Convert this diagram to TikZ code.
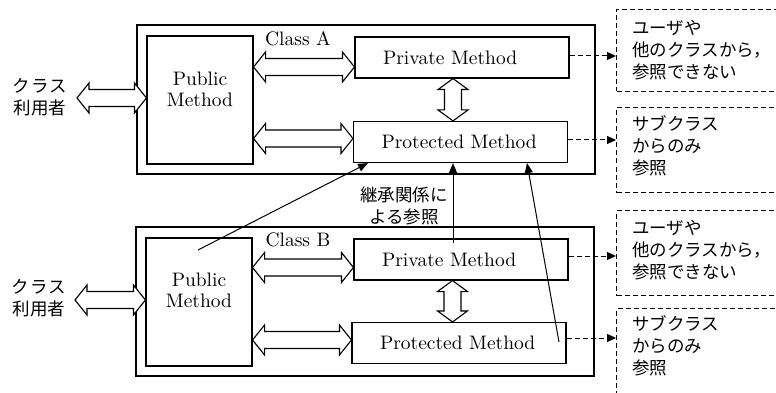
\documentclass[tikz,border=0pt]{standalone}
\usepackage{fontspec}
\setmainfont{lmroman10-regular}[Extension=.otf]
\newfontfamily\jp{Noto Sans CJK JP}
\usetikzlibrary{arrows.meta,calc}
\newcommand\hdarrow[2]{%
  \draw[dblarr] let \p1=(#1), \p2=(#2) in
    (\x1,\y1) -- ++(12pt,15pt) -- ++(0,-6.5pt) -- (\x2-12pt,\y1+8.5pt) -- ++(0,6.5pt)
    -- (\x2,\y1) -- ++(-12pt,-15pt) -- ++(0,6.5pt) -- (\x1+12pt,\y1-8.5pt) -- ++(0,-6.5pt) -- cycle;}
\newcommand\vdarrow[2]{%
  \draw[dblarr] let \p1=(#1), \p2=(#2) in
    (\x1,\y1) -- ++(15pt,-11pt) -- ++(-6.5pt,0) -- (\x1+8.5pt,\y2+11pt) -- ++(6.5pt,0)
    -- (\x1,\y2) -- ++(-15pt,11pt) -- ++(6.5pt,0) -- (\x1-8.5pt,\y1-11pt) -- ++(-6.5pt,0) -- cycle;}
\tikzset{
  box/.style={draw, line width=1.1pt, inner sep=0pt},
  outerbox/.style={box, minimum width=458pt, minimum height=149pt},
  pubbox/.style={box, minimum width=106pt, minimum height=128pt},
  mbox/.style={box, minimum height=41pt, text width=158pt, inner xsep=28pt, align=left,
    font=\fontsize{19.5}{22}\selectfont},
  lat/.style={inner sep=0pt, align=center, font=\fontsize{19.5}{21}\selectfont},
  jtxt/.style={inner sep=0pt, align=left, font=\jp\fontsize{17.5}{22}\selectfont},
  dbox/.style={draw, line width=1pt, dash pattern=on 5pt off 3pt, inner sep=0pt},
  dblarr/.style={draw, line width=1.1pt, fill=white, line join=miter},
  darr/.style={line width=1pt, dash pattern=on 5pt off 3pt, -{Triangle[length=9pt,width=8pt]}},
  inh/.style={line width=1pt, -{Triangle[length=10pt,width=8pt]}},
}
\begin{document}
\begin{tikzpicture}[x=1pt,y=-1pt]
\useasboundingbox (0,0) rectangle (776,393);
\clip (0,0) rectangle (776,393);
% dashed note boxes
\node[dbox, anchor=north west, minimum width=200pt, minimum height=82pt] (nA1) at (616,9) {};
\node[dbox, anchor=north west, minimum width=200pt, minimum height=85pt] (nA2) at (616,107) {};
\node[dbox, anchor=north west, minimum width=200pt, minimum height=85pt] (nB1) at (616,210) {};
\node[dbox, anchor=north west, minimum width=200pt, minimum height=86pt] (nB2) at (616,308) {};
\node[jtxt, anchor=west] (tA1) at (632,50) {ユーザや\\他のクラスから，\\参照できない};
\node[jtxt, anchor=west] (tA2) at (632,146) {サブクラス\\からのみ\\参照};
\node[jtxt, anchor=west] (tB1) at (632,250) {ユーザや\\他のクラスから，\\参照できない};
\node[jtxt, anchor=west] (tB2) at (632,346) {サブクラス\\からのみ\\参照};
% class A
\node[outerbox] (clsA) at (366,99.5) {};
\node[pubbox] (pubA) at (200,100) {};
\node[lat] (pubAt) at (200,89) {Public\\Method};
\node[lat] (clsAl) at (298,39) {Class A};
\node[mbox, minimum width=214pt] (privA) at (462,57.5) {Private Method};
\node[mbox, minimum width=214pt] (protA) at (460.5,142) {Protected Method};
% class B
\node[outerbox] (clsB) at (365,301.5) {};
\node[pubbox] (pubB) at (199,302) {};
\node[lat] (pubBt) at (199,290) {Public\\Method};
\node[lat] (clsBl) at (298,240) {Class B};
\node[mbox, minimum width=214pt] (privB) at (461,259.5) {Private Method};
\node[mbox, minimum width=214pt] (protB) at (459,343) {Protected Method};
% users
\node[jtxt, align=center] (userA) at (40,97) {\makebox[55pt][s]{ク\hfill ラ\hfill ス}\\利用者};
\node[jtxt, align=center] (userB) at (39,298) {\makebox[55pt][s]{ク\hfill ラ\hfill ス}\\利用者};
% helper coordinates for arrow heights
\coordinate (yA0) at (0,98);
\coordinate (yA1) at (0,67);
\coordinate (yA2) at (0,138.5);
\coordinate (yB0) at (0,300);
\coordinate (yB1) at (0,267.5);
\coordinate (yB2) at (0,340);
\coordinate (xl) at (77,0);
\coordinate (xlB) at (75,0);
% double arrows
\hdarrow{xl |- yA0}{pubA.west |- yA0}
\hdarrow{pubA.east |- yA1}{privA.west |- yA1}
\hdarrow{pubA.east |- yA2}{protA.west |- yA2}
\vdarrow{privA.south -| 453,0}{protA.north -| 453,0}
\hdarrow{xlB |- yB0}{pubB.west |- yB0}
\hdarrow{pubB.east |- yB1}{privB.west |- yB1}
\hdarrow{pubB.east |- yB2}{protB.west |- yB2}
\vdarrow{privB.south -| 452.5,0}{protB.north -| 452.5,0}
% dashed arrows
\coordinate (dA1) at (0,56);
\coordinate (dA2) at (0,140);
\coordinate (dB1) at (0,256);
\coordinate (dB2) at (0,338);
\draw[darr] (privA.east |- dA1) -- (nA1.west |- dA1);
\draw[darr] (protA.east |- dA2) -- (nA2.west |- dA2);
\draw[darr] (privB.east |- dB1) -- (nB1.west |- dB1);
\draw[darr] (protB.east |- dB2) -- (nB2.west |- dB2);
% inheritance references
\node[jtxt, align=center] (inhl) at (404,206) {継承関係に\\よる参照};
\coordinate (s1) at (198,250);
\coordinate (s2) at (453,243);
\coordinate (s3) at (559,342);
\draw[inh] (s1) -- (protA.south -| 368,0);
\draw[inh] (s2) -- (protA.south -| 453,0);
\draw[inh] (s3) -- (protA.south -| 527,0);
\end{tikzpicture}
\end{document}
